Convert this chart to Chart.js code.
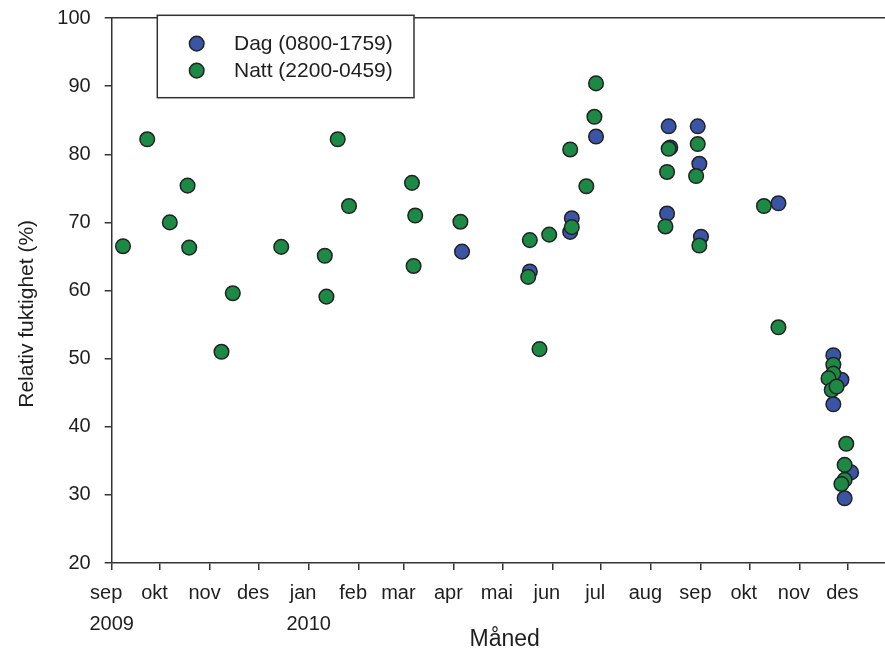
<!DOCTYPE html>
<html>
<head>
<meta charset="utf-8">
<title>Relativ fuktighet</title>
<script src="https://cdn.jsdelivr.net/npm/chart.js@4/dist/chart.umd.min.js"></script>
<style>
  html, body { margin: 0; padding: 0; background: #ffffff; }
  #wrap { width: 885px; height: 650px; }
</style>
</head>
<body>
<div id="wrap"><canvas id="chart" width="885" height="650"></canvas></div>
<script>
// Axis categories: first day of each month on the x axis
const monthStarts = ['2009-09-01', '2009-10-01', '2009-11-01', '2009-12-01', '2010-01-01',
  '2010-02-01', '2010-03-01', '2010-04-01', '2010-05-01', '2010-06-01', '2010-07-01',
  '2010-08-01', '2010-09-01', '2010-10-01', '2010-11-01', '2010-12-01'];
const monthNames = ['sep', 'okt', 'nov', 'des', 'jan', 'feb', 'mar', 'apr', 'mai', 'jun',
  'jul', 'aug', 'sep', 'okt', 'nov', 'des'];
const yearNames = ['2009', '', '', '', '2010', '', '', '', '', '', '', '', '', '', '', ''];
const xStart = '2009-09-01';
const xEnd = '2010-12-24';

// Y axis range
const yMin = 20;
const yMax = 100;
const yStep = 10;

// Daytime measurements (0800-1759)
const dagDates = ['2010-04-06', '2010-05-18', '2010-06-13', '2010-06-12', '2010-06-28',
  '2010-08-12', '2010-08-13', '2010-08-11', '2010-08-30', '2010-08-31', '2010-09-01',
  '2010-10-19', '2010-11-22', '2010-11-22', '2010-11-27', '2010-12-03', '2010-11-29'];
const dagValues = [65.7, 62.8, 70.6, 68.6, 82.6,
  84.1, 81.0, 71.3, 84.1, 78.6, 67.9,
  72.8, 50.5, 43.3, 46.9, 33.3, 29.5];

// Night measurements (2200-0459)
const nattDates = ['2009-09-08', '2009-09-23', '2009-10-07', '2009-10-18', '2009-10-19',
  '2009-11-08', '2009-11-15', '2009-12-15', '2010-01-11', '2010-01-12', '2010-01-19',
  '2010-01-26', '2010-03-06', '2010-03-08', '2010-03-07', '2010-04-05', '2010-05-18',
  '2010-05-17', '2010-05-24', '2010-05-30', '2010-06-12', '2010-06-13', '2010-06-22',
  '2010-06-27', '2010-06-28', '2010-08-11', '2010-08-12', '2010-08-10', '2010-08-30',
  '2010-08-29', '2010-08-31', '2010-10-10', '2010-10-19', '2010-11-22', '2010-11-22',
  '2010-11-19', '2010-11-21', '2010-11-24', '2010-11-30', '2010-11-29', '2010-11-29',
  '2010-11-27'];
const nattValues = [66.5, 82.2, 70.0, 75.4, 66.3,
  51.0, 59.6, 66.4, 65.1, 59.1, 82.2,
  72.4, 75.8, 71.0, 63.6, 70.1, 67.4,
  62.0, 51.4, 68.2, 80.7, 69.3, 75.3,
  85.5, 90.4, 77.4, 80.8, 69.4, 81.5,
  76.8, 66.6, 72.4, 54.6, 49.1, 47.8,
  47.1, 45.4, 45.9, 37.5, 34.4, 32.2,
  31.6];

const seriesLabels = ['Dag (0800-1759)', 'Natt (2200-0459)'];
const seriesColors = ['#3a55a5', '#1c8a45'];

const FONT = "'Liberation Sans', Arial, Helvetica, sans-serif";
const INK = '#1e1e1e';
const AXIS = '#333333';

// Dates become day numbers on a linear axis
const toDay = s => Date.parse(s + 'T00:00:00Z') / 86400000;
const monthDays = monthStarts.map(toDay);
const toPoints = (dates, values) => dates.map((d, i) => ({ x: toDay(d), y: values[i] }));

// Fixed axis sizes so the plot frame sits where it should
const fixWidth = w => scale => {
  scale.width = w;
  scale.paddingTop = 0; scale.paddingBottom = 0;
};
const fixHeight = h => scale => {
  scale.height = h;
  scale.paddingLeft = 0; scale.paddingRight = 0;
};

// Framed legend drawn inside the plot, near the upper left corner
const boxLegend = {
  id: 'boxLegend',
  afterDraw(chart, args, opts) {
    const ctx = chart.ctx;
    const a = chart.chartArea;
    const x0 = a.left + opts.dx, y0 = a.top + opts.dy;
    ctx.save();
    ctx.fillStyle = '#ffffff';
    ctx.fillRect(x0, y0, opts.w, opts.h);
    ctx.lineWidth = 1.5;
    ctx.strokeStyle = AXIS;
    ctx.strokeRect(x0, y0, opts.w, opts.h);
    chart.data.datasets.forEach((ds, i) => {
      const cy = y0 + opts.firstRow + i * opts.rowGap;
      const cx = x0 + opts.markerX;
      ctx.beginPath();
      ctx.arc(cx, cy, ds.pointRadius, 0, Math.PI * 2);
      ctx.fillStyle = ds.backgroundColor;
      ctx.fill();
      ctx.lineWidth = ds.borderWidth;
      ctx.strokeStyle = ds.borderColor;
      ctx.stroke();
      ctx.fillStyle = INK;
      ctx.font = '21px ' + FONT;
      ctx.textBaseline = 'middle';
      ctx.textAlign = 'left';
      ctx.fillText(ds.label, x0 + opts.textX, cy + 0.5);
    });
    ctx.restore();
  }
};

new Chart(document.getElementById('chart'), {
  type: 'scatter',
  data: {
    datasets: [
      {
        label: seriesLabels[0],
        data: toPoints(dagDates, dagValues),
        backgroundColor: seriesColors[0],
        borderColor: '#222222',
        borderWidth: 1.5,
        pointRadius: 7.3,
        order: 1
      },
      {
        label: seriesLabels[1],
        data: toPoints(nattDates, nattValues),
        backgroundColor: seriesColors[1],
        borderColor: '#222222',
        borderWidth: 1.5,
        pointRadius: 7.3,
        order: 0
      }
    ]
  },
  options: {
    responsive: false,
    animation: false,
    events: [],
    layout: { autoPadding: false, padding: { top: 18, right: 0, bottom: 0, left: 0 } },
    plugins: {
      legend: { display: false },
      tooltip: { enabled: false },
      boxLegend: { dx: 45.6, dy: -2.7, w: 256.7, h: 82.4, markerX: 39.4, textX: 76.7, firstRow: 28.3, rowGap: 27 }
    },
    scales: {
      x: {
        type: 'linear',
        position: 'bottom',
        min: toDay(xStart),
        max: toDay(xEnd),
        afterBuildTicks: scale => { scale.ticks = monthDays.map(v => ({ value: v })); },
        afterFit: fixHeight(87),
        ticks: {
          autoSkip: false,
          maxRotation: 0,
          minRotation: 0,
          padding: 7.5,
          color: INK,
          font: { family: FONT, size: 20, lineHeight: 1.55 },
          callback: value => {
            const i = monthDays.indexOf(value);
            if (i < 0) return '';
            const m = monthNames[i] + '  ';
            return yearNames[i] ? [m, yearNames[i]] : m;
          }
        },
        grid: { drawOnChartArea: false, drawTicks: true, tickLength: 7, color: AXIS, lineWidth: 1.5 },
        border: { display: true, color: AXIS, width: 1.5 },
        title: {
          display: true,
          text: '  Måned',
          color: INK,
          font: { family: FONT, size: 23, lineHeight: 1 },
          padding: { top: 0, bottom: -1.2 }
        }
      },
      xTop: {
        type: 'linear',
        position: 'top',
        min: toDay(xStart),
        max: toDay(xEnd),
        afterBuildTicks: scale => { scale.ticks = []; },
        afterFit: fixHeight(0),
        ticks: { display: false },
        grid: { drawOnChartArea: false, drawTicks: false },
        border: { display: true, color: AXIS, width: 1.5 }
      },
      y: {
        type: 'linear',
        position: 'left',
        min: yMin,
        max: yMax,
        afterFit: fixWidth(111.7),
        ticks: {
          stepSize: yStep,
          padding: 14,
          color: INK,
          font: { family: FONT, size: 20 }
        },
        grid: { drawOnChartArea: false, drawTicks: true, tickLength: 7, color: AXIS, lineWidth: 1.5 },
        border: { display: true, color: AXIS, width: 1.5 },
        title: {
          display: true,
          text: 'Relativ fuktighet (%)        ',
          color: INK,
          font: { family: FONT, size: 21, lineHeight: 1.2 },
          padding: { top: 14.4, bottom: 17.7 }
        }
      }
    }
  },
  plugins: [boxLegend]
});
</script>
</body>
</html>
